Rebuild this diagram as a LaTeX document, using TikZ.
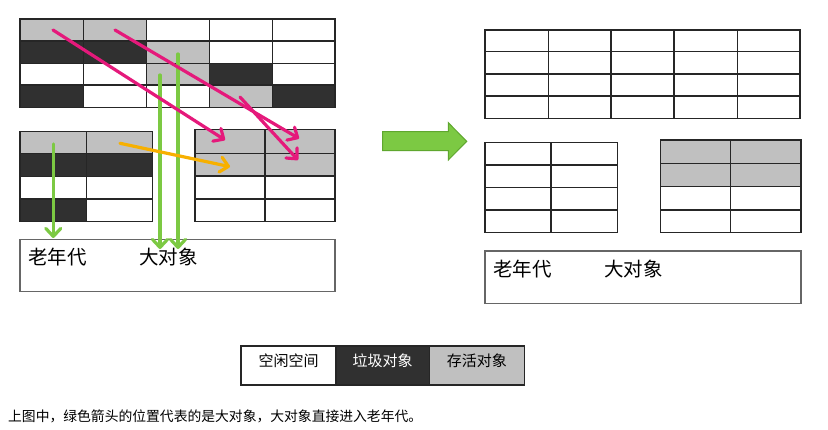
\documentclass[tikz,border=0pt]{standalone}
\usepackage{fontspec}
\setmainfont{Noto Sans CJK SC}
\usetikzlibrary{arrows.meta}
\definecolor{livegray}{HTML}{C0C0C0}
\definecolor{garbage}{HTML}{303030}
\definecolor{pinkarr}{HTML}{E5197B}
\definecolor{greenarr}{HTML}{7CC943}
\definecolor{greenedge}{HTML}{5FA72E}
\definecolor{orangearr}{HTML}{F7B000}
\tikzset{
  gridline/.style={draw=black!85, line width=1.1pt},
  oldbox/.style={draw=black!60, line width=1.2pt},
  arr/.style={line width=3.2pt, line cap=round, -{Straight Barb[length=8pt,width=15pt,line cap=round,line join=round]}},
  pinkarrow/.style={arr, draw=pinkarr},
  greenarrow/.style={arr, draw=greenarr},
  orangearrow/.style={arr, draw=orangearr},
  label/.style={inner sep=0pt, anchor=west, font=\fontsize{19.5}{21}\selectfont},
  legendtext/.style={inner sep=0pt, font=\fontsize{15}{17}\selectfont},
}
\begin{document}
\begin{tikzpicture}[x=1pt,y=-1pt]
\useasboundingbox[fill=white] (0,0) rectangle (828,430);

% ---------- top-left grid (young generation, before) ----------
\fill[livegray] (20,19) rectangle (146.7,41);
\fill[livegray] (146.7,41) rectangle (209.3,85);
\fill[livegray] (209.3,85) rectangle (272.7,107.3);
\fill[garbage] (20,41) rectangle (146.7,63.3);
\fill[garbage] (209.3,63.3) rectangle (272.7,85);
\fill[garbage] (20,85) rectangle (83.3,107.3);
\fill[garbage] (272.7,85) rectangle (335,107.3);
\draw[gridline] (20,19) rectangle (335,107.3);
\foreach \x in {83.3,146.7,209.3,272.7} \draw[gridline] (\x,19) -- (\x,107.3);
\foreach \y in {41,63.3,85} \draw[gridline] (20,\y) -- (335,\y);

% ---------- middle-left grid ----------
\fill[livegray] (20,131.7) rectangle (152.7,153.3);
\fill[garbage] (20,153.3) rectangle (152.7,176.7);
\fill[garbage] (20,199) rectangle (86.7,221.7);
\draw[gridline] (20,131.7) rectangle (152.7,221.7);
\draw[gridline] (86.7,131.7) -- (86.7,221.7);
\foreach \y in {153.3,176.7,199} \draw[gridline] (20,\y) -- (152.7,\y);

% ---------- middle-right grid (survivor) ----------
\fill[livegray] (195,129.3) rectangle (335,176);
\draw[gridline] (195,129.3) rectangle (335,221.7);
\draw[gridline] (265,129.3) -- (265,221.7);
\foreach \y in {153.3,176,199} \draw[gridline] (195,\y) -- (335,\y);

% ---------- old generation (left) ----------
\draw[oldbox] (20,239.3) rectangle (335,291.7);
\node[label] (oldL) at (28,257) {老年代};
\node[label] (bigL) at (139,257) {大对象};

% ---------- arrows (left) ----------
\coordinate (g1s) at (160,75);   \coordinate (g1e) at (160,249);
\coordinate (g2s) at (178,54);   \coordinate (g2e) at (178,249);
\coordinate (g3s) at (53.3,144); \coordinate (g3e) at (53.3,238);
\draw[greenarrow] (g1s) -- (g1e);
\draw[greenarrow] (g2s) -- (g2e);
\draw[greenarrow] (g3s) -- (g3e);
\coordinate (p1s) at (53,30);   \coordinate (p1e) at (225,140);
\coordinate (p2s) at (115,30);  \coordinate (p2e) at (299,138.5);
\coordinate (p3s) at (240,97);  \coordinate (p3e) at (298,160);
\draw[pinkarrow] (p1s) -- (p1e);
\draw[pinkarrow] (p2s) -- (p2e);
\draw[pinkarrow] (p3s) -- (p3e);
\coordinate (o1s) at (120,143.3); \coordinate (o1e) at (230,166.7);
\draw[orangearrow] (o1s) -- (o1e);

% ---------- big arrow ----------
\draw[fill=greenarr, draw=greenedge, line width=1pt, line join=miter]
  (382.7,131.7) -- (448.3,131.7) -- (448.3,122.7) -- (466.7,141.4)
  -- (448.3,160) -- (448.3,150.7) -- (382.7,150.7) -- cycle;

% ---------- right: top grid ----------
\draw[gridline] (485,30) rectangle (800,118.3);
\foreach \x in {548.3,611,674,737.3} \draw[gridline] (\x,30) -- (\x,118.3);
\foreach \y in {51.7,74,96} \draw[gridline] (485,\y) -- (800,\y);

% ---------- right: lower-left grid ----------
\draw[gridline] (485,142.7) rectangle (617.7,232.7);
\draw[gridline] (551,142.7) -- (551,232.7);
\foreach \y in {165,187.3,210} \draw[gridline] (485,\y) -- (617.7,\y);

% ---------- right: lower-right grid ----------
\fill[livegray] (660.7,140) rectangle (801,186.7);
\draw[gridline] (660.7,140) rectangle (801,232.7);
\draw[gridline] (730.7,140) -- (730.7,232.7);
\foreach \y in {163.3,186.7,210} \draw[gridline] (660.7,\y) -- (801,\y);

% ---------- old generation (right) ----------
\draw[oldbox] (485,251) rectangle (801,303.3);
\node[label] (oldR) at (493,269) {老年代};
\node[label] (bigR) at (604,269) {大对象};

% ---------- legend ----------
\fill[garbage] (336,346) rectangle (429.3,385);
\fill[livegray] (429.3,346) rectangle (524.3,385);
\draw[line width=1.1pt, draw=black!85] (241,346) rectangle (524.3,385);
\draw[line width=1.1pt, draw=black!85] (336,346) -- (336,385);
\draw[line width=1.1pt, draw=black!85] (429.3,346) -- (429.3,385);
\node[legendtext] (lfree) at (288.5,361) {空闲空间};
\node[legendtext, text=white] (lgarb) at (382.6,361) {垃圾对象};
\node[legendtext] (llive) at (476.8,361) {存活对象};

% ---------- caption ----------
\node[inner sep=0pt, anchor=west, font=\fontsize{13.8}{15}\selectfont] (cap) at (8,416.7)
  {上图中，绿色箭头的位置代表的是大对象，大对象直接进入老年代。};
\end{tikzpicture}
\end{document}
